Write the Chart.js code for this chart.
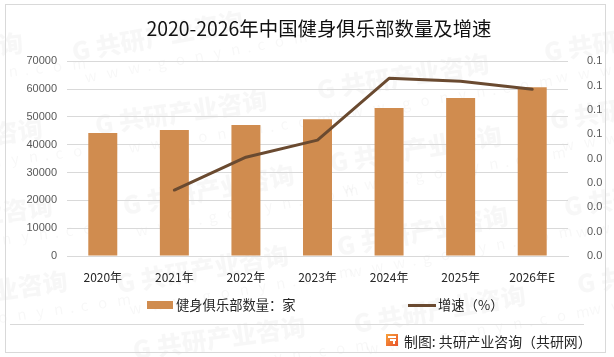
<!DOCTYPE html>
<html>
<head>
<meta charset="utf-8">
<script src="https://cdn.jsdelivr.net/npm/chart.js@4"></script>
<style>
html,body{margin:0;padding:0;background:#fff}
#wrap{position:relative;width:614px;height:357px;overflow:hidden;font-family:"Noto Sans CJK SC",sans-serif;color:#262626}
canvas{position:absolute;left:0;top:0}
.sw{position:absolute}
.lg{position:absolute;font-size:13.3px;line-height:18px;white-space:nowrap}
</style>
</head>
<body>
<div id="wrap">
  <canvas id="clubChart" width="614" height="357"></canvas>
</div>
<script>
// === data ===
const years = ['2020年','2021年','2022年','2023年','2024年','2025年','2026年E'];
const clubCount = [44200,45300,47100,49200,53200,56800,60700];
const growthRate = [null,0.0271,0.0406,0.0476,0.0730,0.0718,0.0685];
const rightTickLabels = ['0.0','0.0','0.0','0.0','0.0','0.1','0.1','0.1','0.1'];
const titleText = '2020-2026年中国健身俱乐部数量及增速';
const barName = '健身俱乐部数量：家';
const lineName = '增速（%）';
const footerText = '制图: 共研产业咨询（共研网）';

const FONT = '"Noto Sans CJK SC", sans-serif';
const TICK_FONT = '"Liberation Sans", sans-serif';

// watermark start and end points
const marks = [
  [72,52,255,18],[-150,62,28,42],[95,125,263,100],[317,90,487,63],[544,52,720,25],
  [-130,150,42,128],[123,206,277,177],[-120,228,55,205],[117,284,290,254],[-105,305,70,280],
  [133,350,297,327],[337,247,513,214],[354,324,527,294],[330,163,500,135],[550,120,720,95],
  [564,207,740,180],[577,284,750,258]
];

const backdrop = {
  id: 'backdrop',
  beforeDraw(chart) {
    const c = chart.ctx;
    c.save();
    c.fillStyle = '#fff';
    c.fillRect(0,0,614,357);
    marks.forEach(m => {
      const a = Math.atan2(m[3]-m[1], m[2]-m[0]);
      c.save();
      c.translate(m[0], m[1]);
      c.rotate(a);
      c.font = '900 25px ' + FONT;
      c.fillStyle = 'rgba(0,0,0,0.032)';
      c.textBaseline = 'middle';
      c.fillText('G 共研产业咨询', 0, 0);
      c.font = '15px ' + FONT;
      c.fillText('w   w   w  .  g   o   n   y   n  .  c   o   m', 8, 27);
      c.restore();
    });
    // frame and footer rule
    c.strokeStyle = '#d9d9d9';
    c.lineWidth = 1;
    c.strokeRect(5.5,4.5,600,348);
    c.beginPath();
    c.moveTo(10,324.5);
    c.lineTo(584,324.5);
    c.stroke();
    // footer logo
    const g = c.createLinearGradient(386,334,398,346);
    g.addColorStop(0,'#f7a13a');
    g.addColorStop(1,'#e8502a');
    c.fillStyle = g;
    c.fillRect(386,334,12,12);
    c.fillStyle = '#fff';
    c.fillRect(388,336,8,2);
    c.fillRect(390,339,6,2);
    c.fillRect(393,341,2,3);
    c.restore();
  }
};

new Chart(document.getElementById('clubChart').getContext('2d'), {
  data: {
    labels: years,
    datasets: [
      {type:'line', label:lineName, data:growthRate, yAxisID:'y1', order:1,
       borderColor:'#6a4a30', borderWidth:3, pointRadius:0, tension:0, borderCapStyle:'round', borderJoinStyle:'round'},
      {type:'bar', label:barName, data:clubCount, yAxisID:'y', order:2,
       backgroundColor:'#d08c4f', barPercentage:1, categoryPercentage:0.405}
    ]
  },
  options: {
    responsive: false,
    animation: false,
    layout: {padding:{left:24,right:0,top:17,bottom:67}},
    plugins: {
      legend: {display:false},
      tooltip: {enabled:false},
      title: {display:true, text:titleText, color:'#111', font:{family:FONT,size:19.4,weight:'normal'}, padding:{top:0,bottom:21}}
    },
    scales: {
      x: {
        grid:{display:false},
        border:{color:'#d9d9d9'},
        ticks:{color:'#262626',font:{family:FONT,size:12},padding:6,maxRotation:0,autoSkip:false},
        afterFit(s){ s.height = 34; }
      },
      y: {
        position:'left', min:0, max:70000,
        grid:{color:'#d9d9d9',drawTicks:false},
        border:{display:false},
        ticks:{stepSize:10000,color:'#595959',font:{family:TICK_FONT,size:11},padding:10,
          callback:v=>String(v)},
        afterFit(s){ s.width = 43; }
      },
      y1: {
        position:'right', min:0, max:0.08,
        grid:{display:false},
        border:{display:false},
        ticks:{stepSize:0.01,color:'#595959',font:{family:TICK_FONT,size:11},padding:11,
          callback:(v,i)=>rightTickLabels[i]},
        afterFit(s){ s.width = 46; }
      }
    }
  },
  plugins:[backdrop]
});

// legend and footer sit in html so the two entries can keep their wide gap
const wrap = document.getElementById('wrap');
function addSwatch(x,y,w,h,col){
  const d = document.createElement('div');
  d.className = 'sw';
  d.style.cssText = `left:${x}px;top:${y}px;width:${w}px;height:${h}px;background:${col}`;
  wrap.appendChild(d);
}
function addText(x,y,t,size){
  const d = document.createElement('div');
  d.className = 'lg';
  d.style.left = x+'px';
  d.style.top = y+'px';
  if(size) d.style.fontSize = size+'px';
  d.textContent = t;
  wrap.appendChild(d);
}
addSwatch(147,301,26,8,'#d08c4f');
addText(176,296,barName);
addSwatch(408,304,28,3,'#6a4a30');
addText(438,296,lineName);
addText(404,332,footerText,13.9);
</script>
</body>
</html>
